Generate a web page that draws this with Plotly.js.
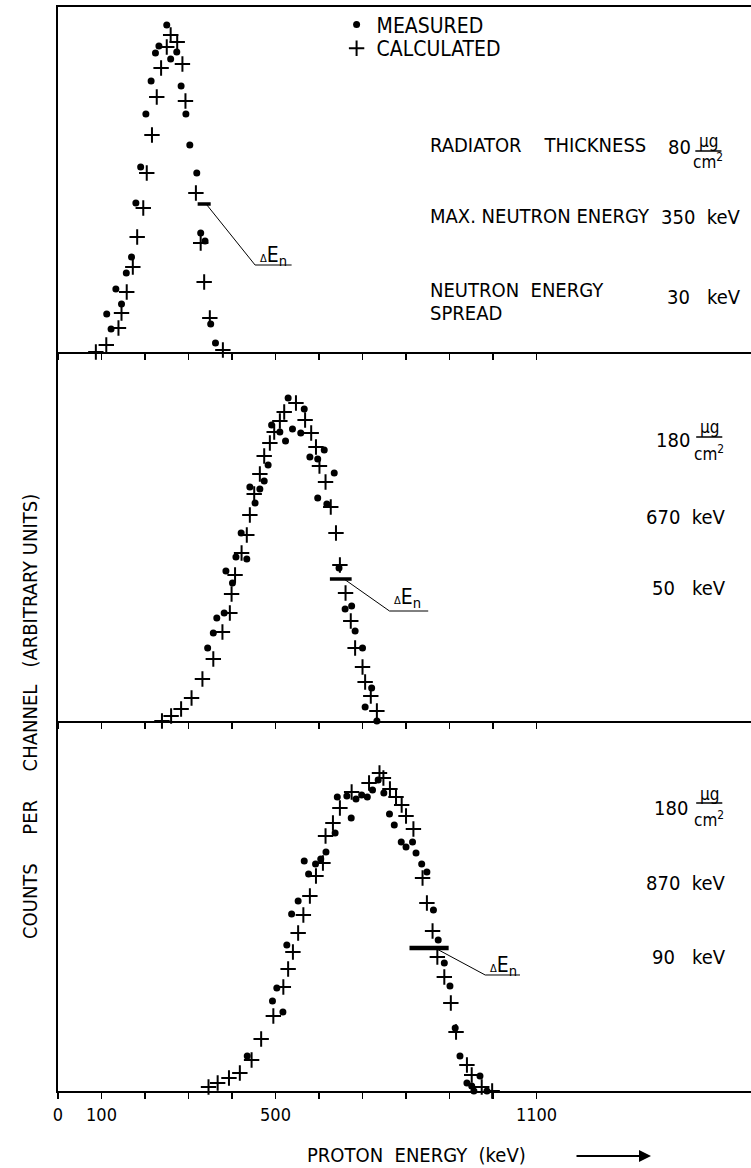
<!DOCTYPE html>
<html>
<head>
<meta charset="utf-8">
<script src="https://cdn.plot.ly/plotly-3.0.1.min.js"></script>
<style>html,body{margin:0;padding:0;background:#fff;}</style>
</head>
<body>
<div id="chart" style="width:751px;height:1168px;"></div>
<script>
// ---------------- data (proton energy in keV, counts per channel in arbitrary units) ----------------
const tickValues = [0, 100, 200, 300, 400, 500, 600, 700, 800, 900, 1000, 1100];
const tickLabels = ['0', '100', '', '', '', '500', '', '', '', '', '', '1100'];

// Panel 1: radiator 80 ug/cm2, max neutron energy 350 keV, spread 30 keV
const p1MeasuredEnergy = [112, 122, 133, 146, 157, 169, 179, 190, 202, 214, 224, 232, 250, 259, 273, 283, 294, 303, 319, 328, 338, 351, 362];
const p1MeasuredCounts = [38, 23, 63, 48, 79, 95, 149, 185, 238, 271, 299, 306, 327, 293, 300, 266, 238, 207, 179, 119, 111, 28, 9];
const p1CalculatedEnergy = [87, 111, 139, 146, 158, 172, 182, 196, 204, 216, 227, 237, 250, 259, 274, 286, 293, 317, 328, 336, 349, 379];
const p1CalculatedCounts = [0, 7, 24, 39, 60, 85, 115, 144, 179, 217, 255, 284, 305, 317, 310, 288, 251, 159, 109, 70, 34, 2];

// Panel 2: radiator 180 ug/cm2, max neutron energy 670 keV, spread 50 keV
const p2MeasuredEnergy = [344, 357, 365, 382, 386, 401, 409, 421, 434, 441, 453, 464, 474, 483, 491, 510, 523, 529, 539, 558, 566, 579, 597, 597, 612, 618, 635, 646, 660, 675, 683, 700, 706, 721, 733];
const p2MeasuredCounts = [73, 88, 103, 108, 150, 138, 164, 188, 162, 234, 218, 232, 240, 256, 296, 289, 280, 323, 292, 288, 312, 264, 262, 223, 271, 217, 248, 153, 112, 115, 90, 73, 14, 33, 0];
const p2CalculatedEnergy = [239, 260, 283, 307, 332, 357, 378, 395, 399, 407, 422, 434, 441, 451, 464, 474, 487, 497, 510, 520, 547, 568, 582, 593, 601, 615, 627, 639, 648, 661, 673, 683, 700, 706, 719, 733];
const p2CalculatedCounts = [0, 5, 12, 23, 42, 62, 89, 108, 127, 146, 168, 186, 206, 227, 247, 265, 278, 289, 300, 309, 318, 301, 288, 274, 255, 239, 214, 188, 156, 128, 100, 73, 54, 39, 25, 10];

// Panel 3: radiator 180 ug/cm2, max neutron energy 870 keV, spread 90 keV
const p3MeasuredEnergy = [435, 493, 503, 517, 526, 537, 552, 566, 576, 592, 604, 616, 637, 642, 664, 674, 685, 698, 711, 723, 736, 749, 762, 773, 789, 800, 815, 823, 836, 848, 863, 874, 888, 901, 913, 924, 940, 951, 956, 970, 986];
const p3MeasuredCounts = [35, 90, 103, 79, 146, 177, 190, 230, 217, 227, 232, 239, 258, 294, 295, 273, 292, 296, 294, 301, 311, 298, 277, 266, 249, 244, 249, 238, 227, 219, 181, 151, 128, 105, 63, 35, 8, 5, 0, 15, 0];
const p3CalculatedEnergy = [346, 367, 393, 418, 445, 467, 495, 518, 529, 540, 552, 564, 579, 593, 609, 615, 632, 648, 675, 715, 739, 748, 763, 777, 790, 800, 817, 838, 848, 861, 872, 888, 903, 915, 940, 951, 974, 998];
const p3CalculatedCounts = [4, 8, 13, 18, 31, 52, 75, 104, 122, 139, 158, 176, 195, 215, 228, 255, 268, 283, 299, 308, 318, 313, 302, 294, 286, 275, 262, 213, 188, 160, 134, 114, 88, 59, 26, 16, 4, 0];

// neutron energy spread bars (Delta E_n): width in keV, centre in keV
const spreadWidths = [30, 50, 90];
const spreadCentres = [336, 650, 853];

// panel texts
const thicknessLabels = ['80', '180', '180'];
const maxEnergyLabels = ['350', '670', '870'];
const spreadLabels = ['30', '50', '90'];

// ---------------- layout helpers ----------------
const FONT = '"DejaVu Sans Condensed", "Liberation Sans", sans-serif';
const NB = '\u00a0';
const panelHeights = [345, 369, 370];   // y-ranges of panels (top, middle, bottom)

const measuredStyle = {symbol: 'circle', size: 7, color: '#000'};
const calcStyle = {symbol: 'cross-thin', size: 11, color: '#000', line: {width: 2, color: '#000'}};

function traces(E, C, xa, ya, name, style, show, leg) {
  const t = {type: 'scatter', mode: 'markers', x: E, y: C, xaxis: xa, yaxis: ya, name: name,
          legendgroup: name, showlegend: show, marker: style, cliponaxis: false, hoverinfo: 'skip'};
  if (leg) t.legend = leg;
  return t;
}

const data = [
  traces(p1MeasuredEnergy, p1MeasuredCounts, 'x3', 'y3', 'MEASURED', measuredStyle, true, 'legend'),
  traces(p1CalculatedEnergy, p1CalculatedCounts, 'x3', 'y3', 'CALCULATED', calcStyle, true, 'legend2'),
  traces(p2MeasuredEnergy, p2MeasuredCounts, 'x2', 'y2', 'MEASURED', measuredStyle, false),
  traces(p2CalculatedEnergy, p2CalculatedCounts, 'x2', 'y2', 'CALCULATED', calcStyle, false),
  traces(p3MeasuredEnergy, p3MeasuredCounts, 'x', 'y', 'MEASURED', measuredStyle, false),
  traces(p3CalculatedEnergy, p3CalculatedCounts, 'x', 'y', 'CALCULATED', calcStyle, false)
];

const xRange = [0, 1593];
function xAx(anchor, labels, mirror) {
  return {anchor: anchor, range: xRange, showline: true, linecolor: '#000', linewidth: 2,
          ticks: 'outside', ticklen: 6, tickwidth: 1.5, tickcolor: '#000',
          tickvals: tickValues, ticktext: tickLabels, showticklabels: labels,
          showgrid: false, zeroline: false, mirror: mirror, fixedrange: true,
          tickfont: {family: FONT, size: 18, color: '#000'}};
}
function yAx(anchor, domain, h) {
  return {anchor: anchor, domain: domain, range: [0, h], showline: true, linecolor: '#000', linewidth: 2,
          ticks: '', showticklabels: false, showgrid: false, zeroline: false, fixedrange: true};
}

const txtFont = {family: FONT, size: 20, color: '#000'};
const annotations = [];
const shapes = [];
function ann(xr, yr, x, y, text, anchor, size) {
  annotations.push({xref: xr, yref: yr, x: x, y: y, text: text, showarrow: false,
    xanchor: anchor || 'center', yanchor: 'middle', font: {family: FONT, size: size || 20, color: '#000'}});
}
function seg(xr, yr, x0, y0, x1, y1, w) {
  shapes.push({type: 'line', xref: xr, yref: yr, x0: x0, y0: y0, x1: x1, y1: y1,
    line: {color: '#000', width: w}});
}

const panels = [['x3', 'y3'], ['x2', 'y2'], ['x', 'y']];

// top panel descriptive text
ann('x3', 'y3', 851, 207, 'RADIATOR' + NB + NB + NB + ' THICKNESS', 'left');
ann('x3', 'y3', 851, 136, 'MAX. NEUTRON ENERGY', 'left');
ann('x3', 'y3', 851, 62, 'NEUTRON' + NB + NB + 'ENERGY', 'left');
ann('x3', 'y3', 851, 39, 'SPREAD', 'left');

// thickness fractions (numerator above bar, denominator below)
const fracPos = [ // [numX, numY, fracX, muY, barY, cmY]
  [1429, 205, 1495, 211, 201, 191],
  [1413, 281, 1497, 294, 284, 268],
  [1408, 283, 1497, 297, 288, 272]
];
const energyPos = [[1575, 135, 1575, 55], [1540, 204, 1540, 133], [1540, 208, 1540, 134]];
panels.forEach((p, i) => {
  const f = fracPos[i];
  ann(p[0], p[1], f[0], f[1], thicknessLabels[i]);
  ann(p[0], p[1], f[2], f[3], '\u00b5g', 'center', 17);
  seg(p[0], p[1], f[2] - 30, f[4], f[2] + 30, f[4], 1.5);
  ann(p[0], p[1], f[2], f[5], 'cm<sup>2</sup>', 'center', 17);
  const e = energyPos[i];
  ann(p[0], p[1], e[0], e[1], maxEnergyLabels[i] + NB + NB + 'keV', 'right');
  ann(p[0], p[1], e[2], e[3], spreadLabels[i] + NB + NB + NB + 'keV', 'right');
});

// Delta E_n markers
const dEn = [ // [barY, elbowX, elbowY, endX, textX, textY]
  [148, 453, 87, 537, 495, 96],
  [142, 762, 110, 851, 804, 123],
  [143, 982, 116, 1062, 1023, 125]
];
const barWidths = [3.5, 3.5, 4.5];
panels.forEach((p, i) => {
  const d = dEn[i];
  const x0 = spreadCentres[i] - spreadWidths[i] / 2, x1 = spreadCentres[i] + spreadWidths[i] / 2;
  seg(p[0], p[1], x0, d[0], x1, d[0], barWidths[i]);
  seg(p[0], p[1], x1 - spreadWidths[i] * 0.35, d[0], d[1], d[2], 1);
  seg(p[0], p[1], d[1], d[2], d[3], d[2], 1);
  ann(p[0], p[1], d[4], d[5], '<span style="font-size:11px">\u0394</span>E<sub>n</sub>', 'center', 21);
});

// axis titles
annotations.push({xref: 'paper', yref: 'paper', x: 0.518, y: -0.059, text: 'PROTON' + NB + ' ENERGY' + NB + ' (keV)',
  showarrow: false, xanchor: 'center', yanchor: 'middle', font: txtFont});
annotations.push({xref: 'paper', yref: 'paper', x: 0.8557, y: -0.060, ax: -76, ay: 0, axref: 'pixel', ayref: 'pixel',
  text: '', showarrow: true, arrowhead: 2, arrowsize: 1.2, arrowwidth: 2, arrowcolor: '#000'});
annotations.push({xref: 'paper', yref: 'paper', x: -0.0404, y: 0.345, textangle: -90,
  text: 'COUNTS' + NB + NB + NB + NB + ' PER' + NB + NB + NB + NB + ' CHANNEL' + NB + NB + ' (ARBITRARY UNITS)',
  showarrow: false, xanchor: 'center', yanchor: 'middle', font: txtFont});

const legFont = {family: FONT, size: 21, color: '#000'};
const layout = {
  width: 751, height: 1168,
  margin: {l: 58, r: 0, t: 7, b: 77, pad: 0},
  paper_bgcolor: '#fff', plot_bgcolor: '#fff',
  font: {family: FONT, color: '#000'},
  showlegend: true,
  legend: {x: 0.402, y: 1.0025, xanchor: 'left', yanchor: 'top', bgcolor: 'rgba(0,0,0,0)',
           borderwidth: 0, font: legFont},
  legend2: {x: 0.402, y: 0.9805, xanchor: 'left', yanchor: 'top', bgcolor: 'rgba(0,0,0,0)',
           borderwidth: 0, font: legFont},
  xaxis: xAx('y', true, false),
  xaxis2: xAx('y2', false, false),
  xaxis3: xAx('y3', false, true),
  yaxis: yAx('x', [0, 0.34133], panelHeights[2]),
  yaxis2: yAx('x2', [0.34133, 0.68173], panelHeights[1]),
  yaxis3: yAx('x3', [0.68173, 1], panelHeights[0]),
  annotations: annotations,
  shapes: shapes
};

Plotly.newPlot('chart', data, layout, {displayModeBar: false, staticPlot: true});
</script>
</body>
</html>
